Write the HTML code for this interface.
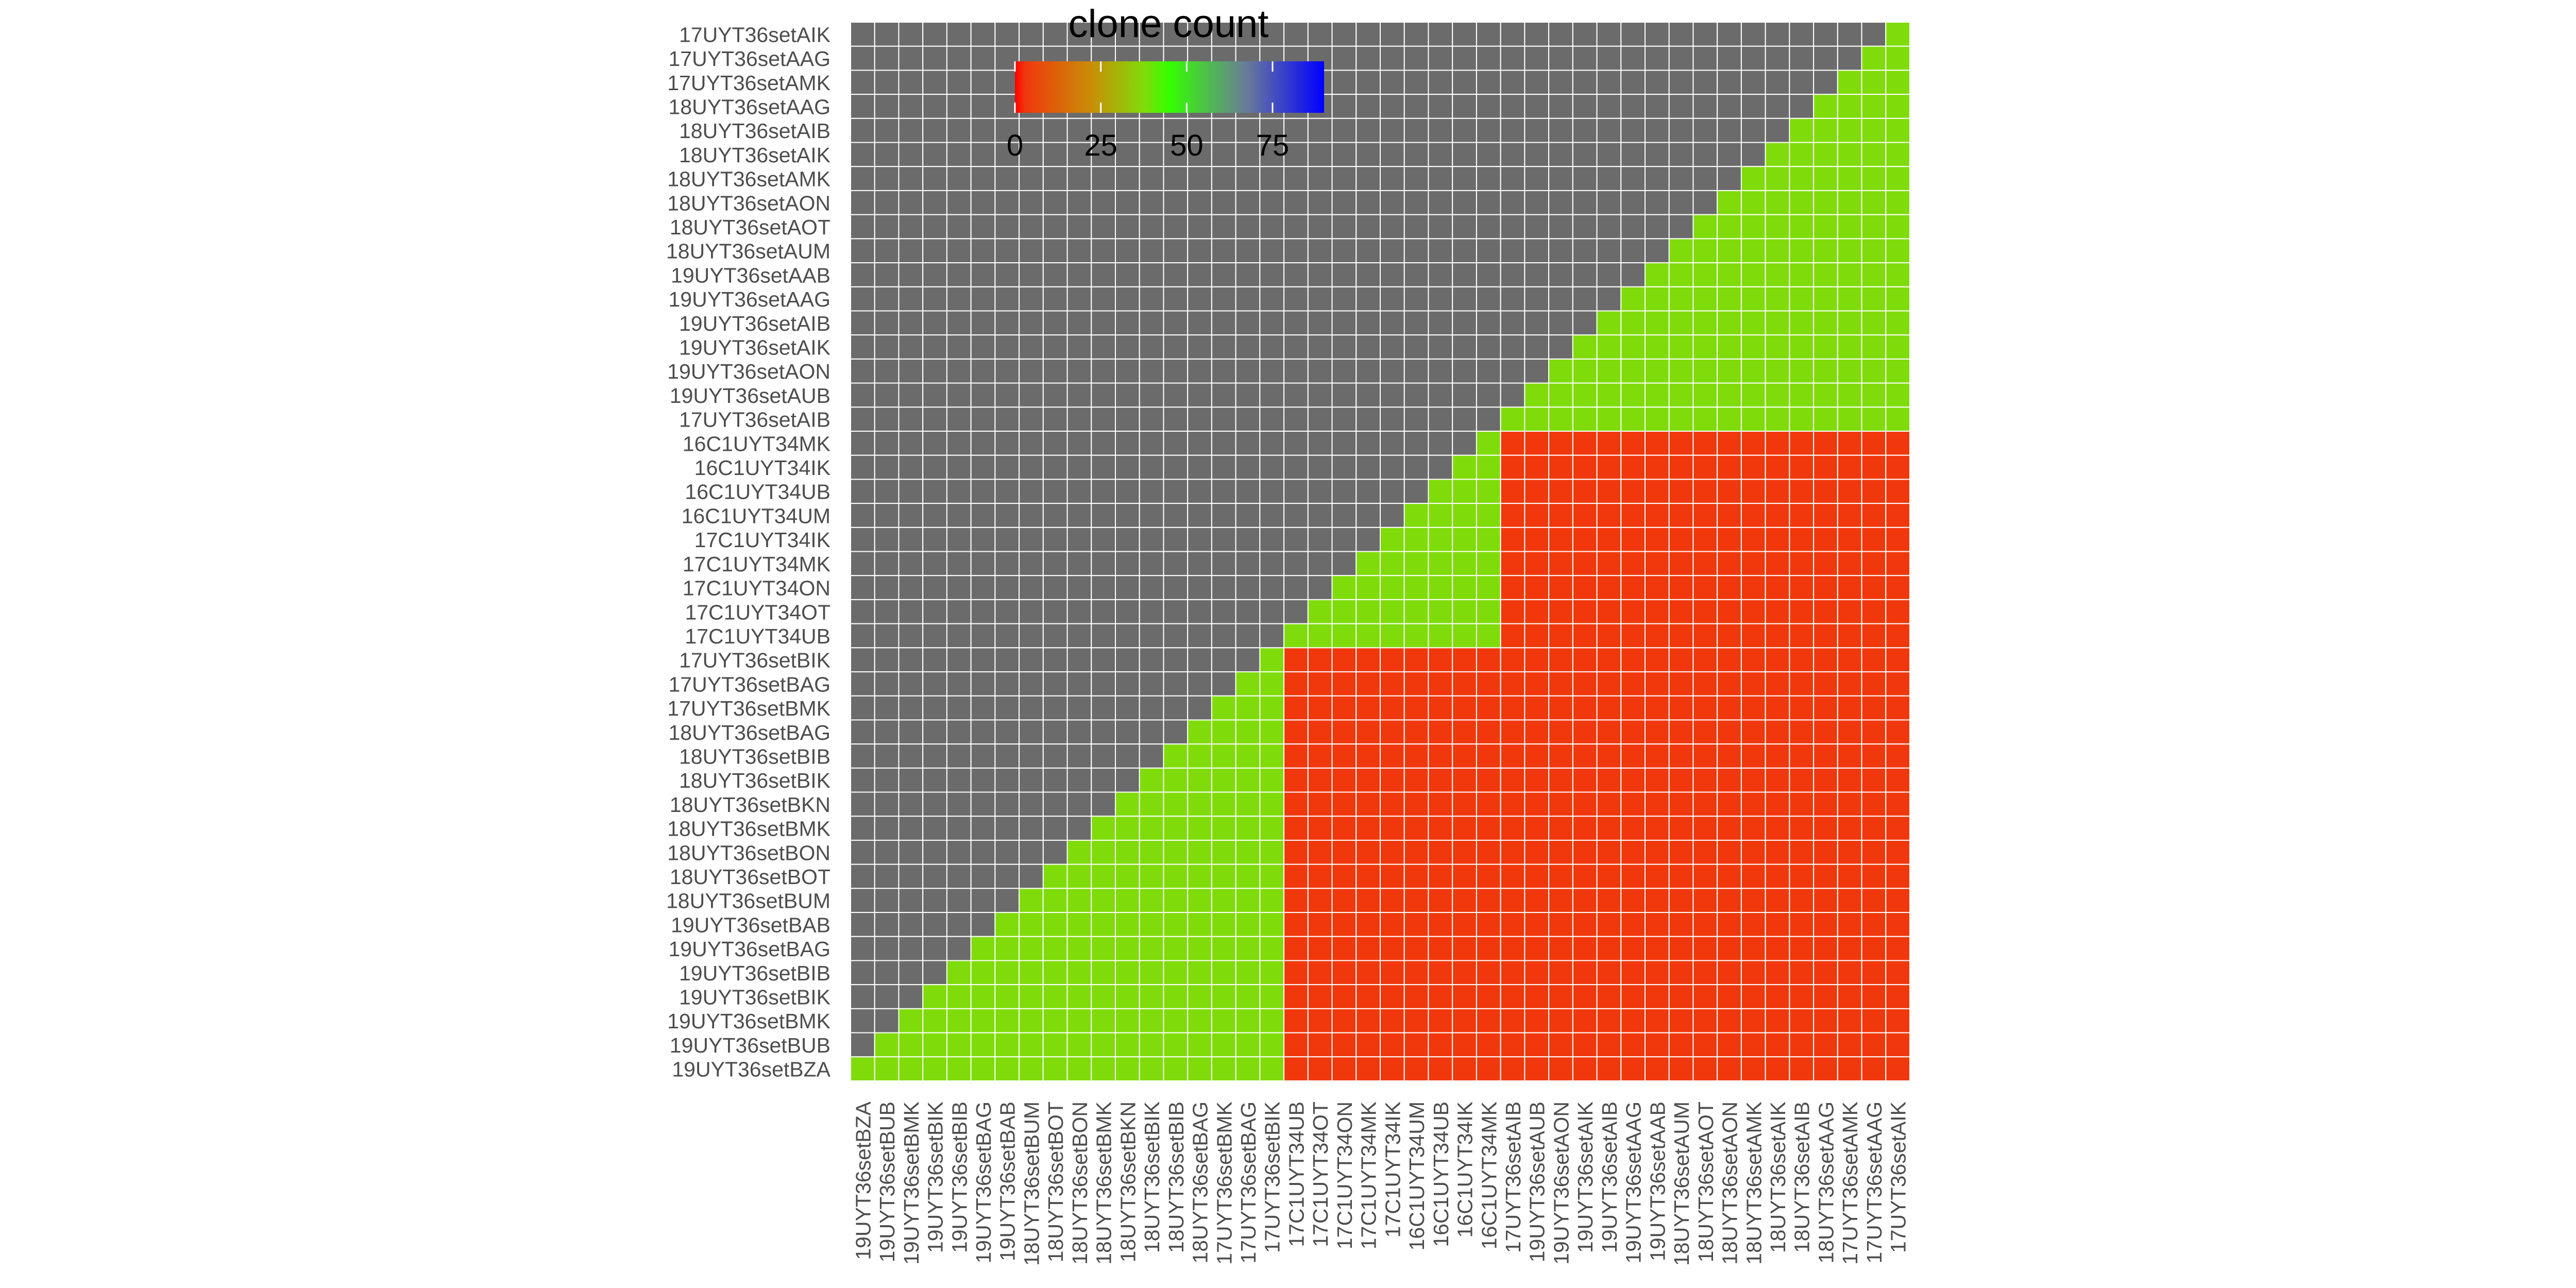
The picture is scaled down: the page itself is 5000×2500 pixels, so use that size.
<!DOCTYPE html>
<html><head><meta charset="utf-8"><style>
html,body{margin:0;padding:0;background:#fff;width:5000px;height:2500px;overflow:hidden}
text{font-family:"Liberation Sans",Arial,sans-serif}
</style></head><body>
<svg id="chart" width="5000" height="2500" viewBox="0 0 5000 2500" xmlns="http://www.w3.org/2000/svg">
<defs>
<linearGradient id="lg" x1="0" x2="1" y1="0" y2="0">
<stop offset="0" stop-color="#ff0000"/><stop offset="0.033" stop-color="#f0380c"/>
<stop offset="0.25" stop-color="#c88f08"/><stop offset="0.42" stop-color="#7fdc0a"/>
<stop offset="0.5" stop-color="#33ff00"/><stop offset="0.75" stop-color="#6a7a9a"/>
<stop offset="1" stop-color="#0000ff"/></linearGradient>
</defs>
<g id="cells"></g>
<g id="ylab"></g>
<g id="xlab"></g>
<g id="legend">
<text x="2268" y="72" font-size="76" text-anchor="middle" fill="#000">clone count</text>
<rect x="1970" y="119" width="600" height="100" fill="url(#lg)"/>
</g>
</svg>
<script>
const rowLabels=["17UYT36setAIK","17UYT36setAAG","17UYT36setAMK","18UYT36setAAG","18UYT36setAIB","18UYT36setAIK","18UYT36setAMK","18UYT36setAON","18UYT36setAOT","18UYT36setAUM","19UYT36setAAB","19UYT36setAAG","19UYT36setAIB","19UYT36setAIK","19UYT36setAON","19UYT36setAUB","17UYT36setAIB","16C1UYT34MK","16C1UYT34IK","16C1UYT34UB","16C1UYT34UM","17C1UYT34IK","17C1UYT34MK","17C1UYT34ON","17C1UYT34OT","17C1UYT34UB","17UYT36setBIK","17UYT36setBAG","17UYT36setBMK","18UYT36setBAG","18UYT36setBIB","18UYT36setBIK","18UYT36setBKN","18UYT36setBMK","18UYT36setBON","18UYT36setBOT","18UYT36setBUM","19UYT36setBAB","19UYT36setBAG","19UYT36setBIB","19UYT36setBIK","19UYT36setBMK","19UYT36setBUB","19UYT36setBZA"];
const colLabels=rowLabels.slice().reverse();
// group of each sample: A, C, B
const rowGroups=["A","A","A","A","A","A","A","A","A","A","A","A","A","A","A","A","A","C","C","C","C","C","C","C","C","C","B","B","B","B","B","B","B","B","B","B","B","B","B","B","B","B","B","B"];
const sameGroupCount=38;
const diffGroupCount=3;
const legendTicks=[0,25,50,75];
const legendMax=90;
</script>
<script>
const NS="http://www.w3.org/2000/svg";
const X0=1651,Y0=43,W=2056,H=2055,n=rowLabels.length;
const cw=W/n,ch=H/n;
const xPos=j=>X0+j*cw, yPos=i=>Y0+i*ch;
const colGroups=rowGroups.slice().reverse();
const stops=[[0,[255,0,0]],[3,[240,56,12]],[22.5,[200,143,8]],[38,[127,220,10]],[45,[51,255,0]],[67.5,[106,122,154]],[90,[0,0,255]]];
function color(v){
  if(v===null)return"#6b6b6b";
  for(let k=1;k<stops.length;k++){if(v<=stops[k][0]){const a=stops[k-1],b=stops[k],t=(v-a[0])/(b[0]-a[0]);
    return"rgb("+a[1].map((c,q)=>Math.round(c+(b[1][q]-c)*t)).join(",")+")";}}
  return"rgb(0,0,255)";
}
const cells=document.getElementById("cells");
for(let i=0;i<n;i++)for(let j=0;j<n;j++){
  let v=null;
  if(i+j>=n-1) v=(rowGroups[i]===colGroups[j])?sameGroupCount:diffGroupCount;
  const r=document.createElementNS(NS,"rect");
  r.setAttribute("x",xPos(j));r.setAttribute("y",yPos(i));
  r.setAttribute("width",cw);r.setAttribute("height",ch);
  r.setAttribute("fill",color(v));r.setAttribute("stroke","#ffffff");r.setAttribute("stroke-width","2");
  
  
  cells.appendChild(r);
}
const yl=document.getElementById("ylab");
rowLabels.forEach((s,i)=>{
  const t=document.createElementNS(NS,"text");
  t.setAttribute("x",1612);t.setAttribute("y",yPos(i)+ch/2+15);
  t.setAttribute("text-anchor","end");t.setAttribute("font-size","41");t.setAttribute("fill","#4d4d4d");
  t.textContent=s;
  
  
  yl.appendChild(t);
});
const xl=document.getElementById("xlab");
colLabels.forEach((s,j)=>{
  const t=document.createElementNS(NS,"text");
  const cx=xPos(j)+cw/2+15,cy=2138;
  t.setAttribute("x",cx);t.setAttribute("y",cy);
  t.setAttribute("transform","rotate(-90 "+cx+" "+cy+")");
  t.setAttribute("text-anchor","end");t.setAttribute("font-size","41");t.setAttribute("fill","#4d4d4d");
  t.textContent=s;
  
  
  xl.appendChild(t);
});
const lg=document.getElementById("legend");
legendTicks.forEach(v=>{
  const x=1970+600*v/legendMax;
  [[119,139],[199,219]].forEach(([a,b])=>{
    const l=document.createElementNS(NS,"line");
    l.setAttribute("x1",x);l.setAttribute("x2",x);l.setAttribute("y1",a);l.setAttribute("y2",b);
    l.setAttribute("stroke","#fff");l.setAttribute("stroke-width","3");
    
    
    lg.appendChild(l);
  });
  const t=document.createElementNS(NS,"text");
  t.setAttribute("x",x);t.setAttribute("y",302);t.setAttribute("text-anchor","middle");
  t.setAttribute("font-size","58");t.setAttribute("fill","#000");t.textContent=v;
  
  
  lg.appendChild(t);
});
</script>
</body></html>
